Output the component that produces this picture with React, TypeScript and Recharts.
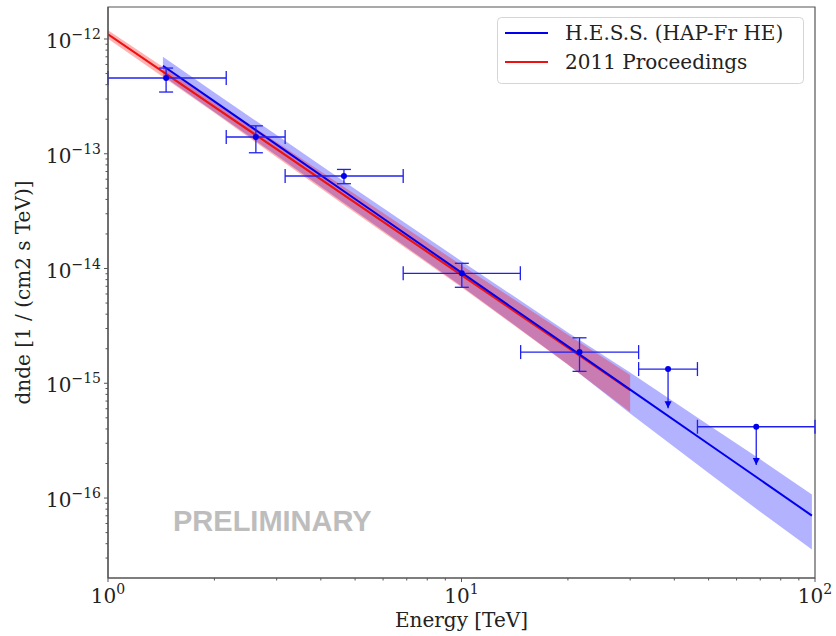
import React from 'react';
import { ComposedChart, XAxis, YAxis, Line, Area, Scatter, ErrorBar, ReferenceArea } from 'recharts';

// H.E.S.S. (HAP-Fr HE) power-law fit and its butterfly
const hessEnergy = [1.43, 2, 3, 5, 10, 20, 30, 50, 70, 98];
const hessFlux = [5.848e-13, 2.858e-13, 1.202e-13, 4.036e-14, 9.204e-15, 2.094e-15, 8.81e-16, 2.958e-16, 1.442e-16, 7.03e-17];
const hessLow = [4.785e-13, 2.314e-13, 9.641e-14, 3.172e-14, 7.022e-15, 1.459e-15, 5.443e-16, 1.653e-16, 7.59e-17, 3.553e-17];
const hessHigh = [7.004e-13, 3.422e-13, 1.455e-13, 4.933e-14, 1.159e-14, 2.773e-15, 1.239e-15, 4.331e-16, 2.176e-16, 1.0715e-16];

// 2011 Proceedings fit and its butterfly
const procEnergy = [1, 2, 3, 5, 10, 20, 30];
const procFlux = [1.099e-12, 2.564e-13, 1.096e-13, 3.75e-14, 8.75e-15, 2.042e-15, 8.73e-16];
const procLow = [1.004e-12, 2.274e-13, 9.34e-14, 3.068e-14, 6.878e-15, 1.452e-15, 5.615e-16];
const procHigh = [1.191e-12, 2.863e-13, 1.262e-13, 4.447e-14, 1.069e-14, 2.651e-15, 1.18e-15];

// flux points
const ptEnergy = [1.46, 2.62, 4.65, 10.02, 21.57];
const ptEMin = [1.0, 2.16, 3.17, 6.84, 14.7];
const ptEMax = [2.16, 3.17, 6.84, 14.67, 31.7];
const ptFlux = [4.57e-13, 1.4e-13, 6.4e-14, 9.08e-15, 1.87e-15];
const ptFluxLow = [3.45e-13, 1.02e-13, 5.48e-14, 6.86e-15, 1.27e-15];
const ptFluxHigh = [5.58e-13, 1.75e-13, 7.3e-14, 1.11e-14, 2.49e-15];

// upper limits
const ulEnergy = [38.4, 68.2];
const ulEMin = [31.7, 46.5];
const ulEMax = [46.5, 100];
const ulFlux = [1.33e-15, 4.18e-16];
const ulArrowTip = [6.05e-16, 1.94e-16];

// axes
const xDomain = [1, 100];
const yDomain = [2.01e-17, 1.9e-12];
const xDecades = [1, 10];
const xMajorTicks = [1, 10, 100];
const yDecades = [1e-17, 1e-16, 1e-15, 1e-14, 1e-13, 1e-12];
const yMajorTicks = [1e-16, 1e-15, 1e-14, 1e-13, 1e-12];
const minorMult = [2, 3, 4, 5, 6, 7, 8, 9];

const xTicks = [...xMajorTicks, ...xDecades.flatMap((d) => minorMult.map((m) => m * d))].sort((a, b) => a - b);
const yTicks = [...yMajorTicks, ...yDecades.flatMap((d) => minorMult.map((m) => m * d))]
  .filter((v) => v >= yDomain[0] && v <= yDomain[1])
  .sort((a, b) => a - b);

const hessRows = hessEnergy.map((e, i) => ({ x: e, y: hessFlux[i], band: [hessLow[i], hessHigh[i]] }));
const procRows = procEnergy.map((e, i) => ({ x: e, y: procFlux[i], band: [procLow[i], procHigh[i]] }));
const pointRows = ptEnergy.map((e, i) => ({
  x: e,
  y: ptFlux[i],
  xErr: [e - ptEMin[i], ptEMax[i] - e],
  yErr: [ptFlux[i] - ptFluxLow[i], ptFluxHigh[i] - ptFlux[i]],
}));
const ulRows = ulEnergy.map((e, i) => ({
  x: e,
  y: ulFlux[i],
  xErr: [e - ulEMin[i], ulEMax[i] - e],
  yErr: [ulFlux[i] - ulArrowTip[i], 0],
}));
const ulTipRows = ulEnergy.map((e, i) => ({ x: e, y: ulArrowTip[i] }));

const FONT = "'DejaVu Serif', serif";
const TEXT = '#222';
const AXIS = '#555';
const BLUE = '#0000ee';
const EBLUE = '#2020ee';
const RED = '#ee1111';

const isMajor = (v: number) => {
  const lg = Math.log10(v);
  return Math.abs(lg - Math.round(lg)) < 1e-6;
};

const XTick = (props: any) => {
  const { x, y, payload } = props;
  const v = payload.value;
  const major = isMajor(v);
  const exp = Math.round(Math.log10(v));
  return (
    <g>
      <line x1={x} x2={x} y1={y} y2={y + (major ? 4 : 2.5)} stroke={AXIS} strokeWidth={1} />
      {major && (
        <text x={x} y={y + 25} textAnchor="middle" fontFamily={FONT} fontSize={20} fill={TEXT}>
          10
          <tspan dy={-9} fontSize={14}>
            {exp < 0 ? '\u2212' + Math.abs(exp) : String(exp)}
          </tspan>
        </text>
      )}
    </g>
  );
};

const YTick = (props: any) => {
  const { x, y, payload } = props;
  const v = payload.value;
  const major = isMajor(v);
  const exp = Math.round(Math.log10(v));
  return (
    <g>
      <line x1={x} x2={x - (major ? 4 : 2.5)} y1={y} y2={y} stroke={AXIS} strokeWidth={1} />
      {major && (
        <text x={x - 7} y={y + 9} textAnchor="end" fontFamily={FONT} fontSize={20} fill={TEXT}>
          10
          <tspan dy={-9} fontSize={14}>
            {exp < 0 ? '\u2212' + Math.abs(exp) : String(exp)}
          </tspan>
        </text>
      )}
    </g>
  );
};

const Dot = (props: any) => <circle cx={props.cx} cy={props.cy} r={3} fill={BLUE} />;
const ArrowHead = (props: any) => {
  const { cx, cy } = props;
  return <polygon points={`${cx - 3.5},${cy - 7} ${cx + 3.5},${cy - 7} ${cx},${cy}`} fill={BLUE} />;
};

const XLabel = (props: any) => {
  const vb = props.viewBox || { x: 108, y: 578, width: 707, height: 40 };
  return (
    <text x={vb.x + vb.width / 2} y={vb.y + 49} textAnchor="middle" fontFamily={FONT} fontSize={20} fill={TEXT}>
      Energy [TeV]
    </text>
  );
};

const YLabel = (props: any) => {
  const vb = props.viewBox || { x: 48, y: 7, width: 60, height: 571 };
  const cx = vb.x - 18;
  const cy = vb.y + vb.height / 2;
  return (
    <text x={cx} y={cy} textAnchor="middle" transform={`rotate(-90, ${cx}, ${cy})`} fontFamily={FONT} fontSize={20} fill={TEXT}>
      dnde [1 / (cm2 s TeV)]
    </text>
  );
};

export default function App() {
  return (
    <div style={{ position: 'absolute', left: 0, top: 0, width: 836, height: 636, background: '#fff' }}>
      <ComposedChart width={836} height={636} margin={{ top: 7, right: 21, bottom: 18, left: 48 }}>
        <XAxis
          dataKey="x"
          type="number"
          scale="log"
          domain={xDomain}
          allowDataOverflow
          ticks={xTicks}
          interval={0}
          tick={<XTick />}
          tickLine={false}
          tickSize={0}
          tickMargin={0}
          axisLine={{ stroke: AXIS, strokeWidth: 1.2 }}
          height={40}
          label={<XLabel />}
        />
        <YAxis
          dataKey="y"
          type="number"
          scale="log"
          domain={yDomain}
          allowDataOverflow
          ticks={yTicks}
          interval={0}
          tick={<YTick />}
          tickLine={false}
          tickSize={0}
          tickMargin={0}
          axisLine={{ stroke: AXIS, strokeWidth: 1.2 }}
          width={60}
          label={<YLabel />}
        />
        <Area
          data={hessRows}
          dataKey="band"
          type="linear"
          stroke="none"
          fill="#0000ff"
          fillOpacity={0.3}
          isAnimationActive={false}
        />
        <Area
          data={procRows}
          dataKey="band"
          type="linear"
          stroke="none"
          fill="#ff0000"
          fillOpacity={0.3}
          isAnimationActive={false}
        />
        <Line data={procRows} dataKey="y" type="linear" stroke={RED} strokeWidth={2.2} dot={false} isAnimationActive={false} />
        <Line data={hessRows} dataKey="y" type="linear" stroke={BLUE} strokeWidth={2} dot={false} isAnimationActive={false} />
        <Scatter data={pointRows} dataKey="y" shape={<Dot />} isAnimationActive={false}>
          <ErrorBar dataKey="xErr" direction="x" stroke={EBLUE} strokeWidth={1.3} width={7} isAnimationActive={false} />
          <ErrorBar dataKey="yErr" direction="y" stroke={EBLUE} strokeWidth={1.3} width={7} isAnimationActive={false} />
        </Scatter>
        <Scatter data={ulRows} dataKey="y" shape={<Dot />} isAnimationActive={false}>
          <ErrorBar dataKey="xErr" direction="x" stroke={EBLUE} strokeWidth={1.3} width={7} isAnimationActive={false} />
          <ErrorBar dataKey="yErr" direction="y" stroke={EBLUE} strokeWidth={1.3} width={0} isAnimationActive={false} />
        </Scatter>
        <Scatter data={ulTipRows} dataKey="y" shape={<ArrowHead />} isAnimationActive={false} />
        <ReferenceArea
          x1={xDomain[0]}
          x2={xDomain[1]}
          y1={yDomain[0]}
          y2={yDomain[1]}
          fill="none"
          stroke={AXIS}
          strokeWidth={1.2}
          ifOverflow="visible"
        />
      </ComposedChart>
      <svg width={836} height={636} style={{ position: 'absolute', left: 0, top: 0, pointerEvents: 'none' }}>
        <text x={173} y={531} fontFamily="'Liberation Sans', Arial, sans-serif" fontWeight="bold" fontSize={29} fill="#bdbdbd">
          PRELIMINARY
        </text>
        <rect x={497.5} y={17.5} width={306} height={66} rx={4} fill="#fff" fillOpacity={0.8} stroke="#d5d5d5" strokeWidth={1} />
        <line x1={505} x2={548} y1={33} y2={33} stroke={BLUE} strokeWidth={2} />
        <text x={565} y={40} fontFamily={FONT} fontSize={20} fill={TEXT}>
          H.E.S.S. (HAP-Fr HE)
        </text>
        <line x1={505} x2={548} y1={62} y2={62} stroke={RED} strokeWidth={2} />
        <text x={565} y={69} fontFamily={FONT} fontSize={20} fill={TEXT}>
          2011 Proceedings
        </text>
      </svg>
    </div>
  );
}
